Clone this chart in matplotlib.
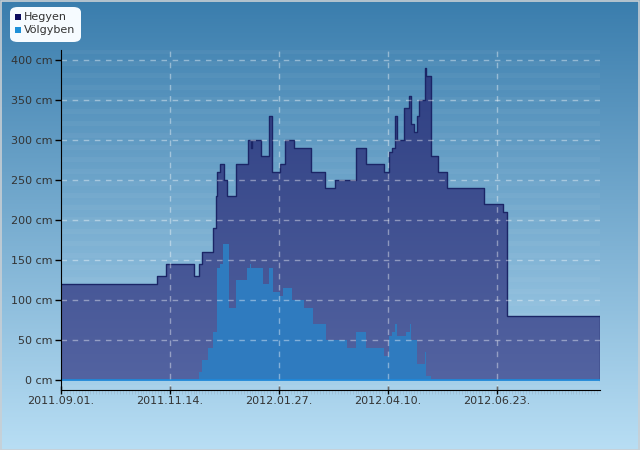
import numpy as np
import matplotlib
matplotlib.use("Agg")
import matplotlib.pyplot as plt
import matplotlib.dates as mdates
from matplotlib.colors import LinearSegmentedColormap
from matplotlib.patches import FancyBboxPatch, Rectangle
import datetime as dt

plt.rcParams['font.family'] = ['DejaVu Sans']

# water level (cm) at the mountain station, step changes
hegyen_dates = ['2011-09-01', '2011-11-05', '2011-11-11', '2011-11-30', '2011-12-04',
                '2011-12-06', '2011-12-13', '2011-12-15', '2011-12-16', '2011-12-18',
                '2011-12-21', '2011-12-23', '2011-12-29', '2012-01-06', '2012-01-08',
                '2012-01-09', '2012-01-15', '2012-01-20', '2012-01-22', '2012-01-28',
                '2012-01-31', '2012-02-06', '2012-02-18', '2012-02-27', '2012-03-05',
                '2012-03-19', '2012-03-26', '2012-04-07', '2012-04-11', '2012-04-13',
                '2012-04-15', '2012-04-16', '2012-04-21', '2012-04-24', '2012-04-26',
                '2012-04-28', '2012-04-30', '2012-05-01', '2012-05-05', '2012-05-06',
                '2012-05-09', '2012-05-14', '2012-05-20', '2012-06-14', '2012-06-27',
                '2012-06-30', '2012-09-01']
hegyen_cm = [120, 130, 145, 130, 145,
             160, 190, 230, 260, 270,
             250, 230, 270, 300, 290,
             300, 280, 330, 260, 270,
             300, 290, 260, 240, 250,
             290, 270, 260, 285, 290,
             330, 300, 340, 355, 320,
             310, 330, 350, 390, 380,
             280, 260, 240, 220, 210,
             80, 80]

# valley station
volgy_dates = ['2011-09-01', '2011-12-04', '2011-12-06', '2011-12-10', '2011-12-13',
               '2011-12-16', '2011-12-18', '2011-12-20', '2011-12-24', '2011-12-29',
               '2012-01-05', '2012-01-07', '2012-01-08', '2012-01-16', '2012-01-20',
               '2012-01-23', '2012-01-28', '2012-01-30', '2012-02-05', '2012-02-13',
               '2012-02-19', '2012-02-28', '2012-03-13', '2012-03-19', '2012-03-26',
               '2012-04-07', '2012-04-11', '2012-04-13', '2012-04-15', '2012-04-16',
               '2012-04-22', '2012-04-25', '2012-04-26', '2012-04-30', '2012-05-05',
               '2012-05-06', '2012-05-09', '2012-09-01']
volgy_cm = [0, 10, 25, 40, 60,
            140, 145, 170, 90, 125,
            140, 145, 140, 120, 140,
            110, 105, 115, 100, 90,
            70, 50, 40, 60, 40,
            30, 55, 60, 70, 55,
            60, 70, 50, 20, 35,
            5, 0, 0]

tick_dates = ['2011-09-01', '2011-11-14', '2012-01-27', '2012-04-10', '2012-06-23']
y_ticks = [0, 50, 100, 150, 200, 250, 300, 350, 400]

def to_num(ds):
    return mdates.date2num([dt.datetime.strptime(d, '%Y-%m-%d') for d in ds])

hx = to_num(hegyen_dates)
vx = to_num(volgy_dates)
tx = to_num(tick_dates)
x0, x1 = to_num(['2011-09-01', '2012-09-01'])

fig = plt.figure(figsize=(6.4, 4.5), dpi=100)

# page background gradient
bg = fig.add_axes([0, 0, 1, 1], zorder=-5)
bg_cmap = LinearSegmentedColormap.from_list('bg', ['#b8def4', '#3a7dad'])
bg.imshow(np.linspace(0, 1, 256).reshape(-1, 1), aspect='auto', cmap=bg_cmap,
          origin='lower', extent=[0, 1, 0, 1])
bg.set_axis_off()
fig.patches.append(Rectangle((0.5 / 640, 0.5 / 450), 1 - 1.5 / 640, 1 - 1.5 / 450,
                             transform=fig.transFigure, fill=False,
                             edgecolor='#c9cfd4', lw=1.2, zorder=10))

ax = fig.add_axes([61 / 640, 1 - 390 / 450, 539 / 640, 340 / 450])
ax.patch.set_alpha(0)

# faint horizontal bands of the plot area
for yb in np.arange(-12.5, 412.5, 15):
    ax.axhspan(yb, yb + 6, color='white', alpha=0.04, lw=0, zorder=0)

# Hegyen: gradient area
poly = ax.fill_between(hx, hegyen_cm, 0, step='post', facecolor='none', lw=0, zorder=1)
h_cmap = LinearSegmentedColormap.from_list('h', ['#5363a1', '#2d3e81'])
img = ax.imshow(np.linspace(0, 1, 256).reshape(-1, 1), aspect='auto', cmap=h_cmap,
                origin='lower', extent=[x0, x1, 0, 400], zorder=1)
img.set_clip_path(poly.get_paths()[0], transform=ax.transData)
ax.step(hx, hegyen_cm, where='post', color='#1b2566', lw=1.0, zorder=3)
ax.plot([x1, x1], [0, hegyen_cm[-1]], color='#1b2566', lw=1.0, zorder=3)

# Völgyben area
ax.fill_between(vx, volgy_cm, 0, step='post', color='#2f7bbf', lw=0, zorder=2)
ax.plot([x0, x1], [0, 0], color='#2088d8', lw=1.3, zorder=3)

ax.set_xlim(x0, x1)
ax.set_ylim(-12.5, 412.5)

# grid
for t in tx[1:]:
    ax.axvline(t, color='white', alpha=0.4, lw=1, ls=(0, (4, 4)), zorder=4)
for yv in y_ticks[1:]:
    ax.axhline(yv, color='white', alpha=0.4, lw=1, ls=(0, (4, 4)), zorder=4)

ax.set_yticks(y_ticks)
ax.set_yticklabels([f'{v} cm' for v in y_ticks])
ax.set_xticks(tx)
ax.set_xticklabels([d.replace('-', '.') + '.' for d in tick_dates])
ax.set_xticks(np.arange(x0, x1, 2), minor=True)
ax.tick_params(axis='y', length=4, width=1, color='black', labelsize=8,
               labelcolor='#333333', pad=2)
ax.tick_params(axis='x', which='major', length=6, width=1, direction='inout',
               labelsize=8, labelcolor='#333333', pad=1)
ax.tick_params(axis='x', which='minor', length=3, width=0.4, color='#9cb6c8',
               direction='out')
for s in ['top', 'right']:
    ax.spines[s].set_visible(False)
ax.spines['left'].set_color('black')
ax.spines['bottom'].set_color('black')
ax.spines['left'].set_zorder(5)
ax.spines['bottom'].set_zorder(5)

# legend box
fig.patches.append(FancyBboxPatch((10 / 640, 1 - 42 / 450), 71 / 640, 35 / 450,
                                  boxstyle='round,pad=0,rounding_size=0.012',
                                  transform=fig.transFigure, facecolor='#f6fbff',
                                  edgecolor='none', zorder=10))
legend_items = [('Hegyen', '#0c0c5e'), ('Völgyben', '#1e90d8')]
for i, (name, col) in enumerate(legend_items):
    yc = 1 - (17 + 13 * i) / 450
    fig.patches.append(Rectangle((15 / 640, yc - 2.5 / 450), 6 / 640, 6 / 450,
                                 transform=fig.transFigure, facecolor=col,
                                 edgecolor='none', zorder=11))
    fig.text(24 / 640, yc, name, fontsize=8, color='#333333', va='center',
             ha='left', zorder=12)

fig.savefig('out.png', dpi=100)
